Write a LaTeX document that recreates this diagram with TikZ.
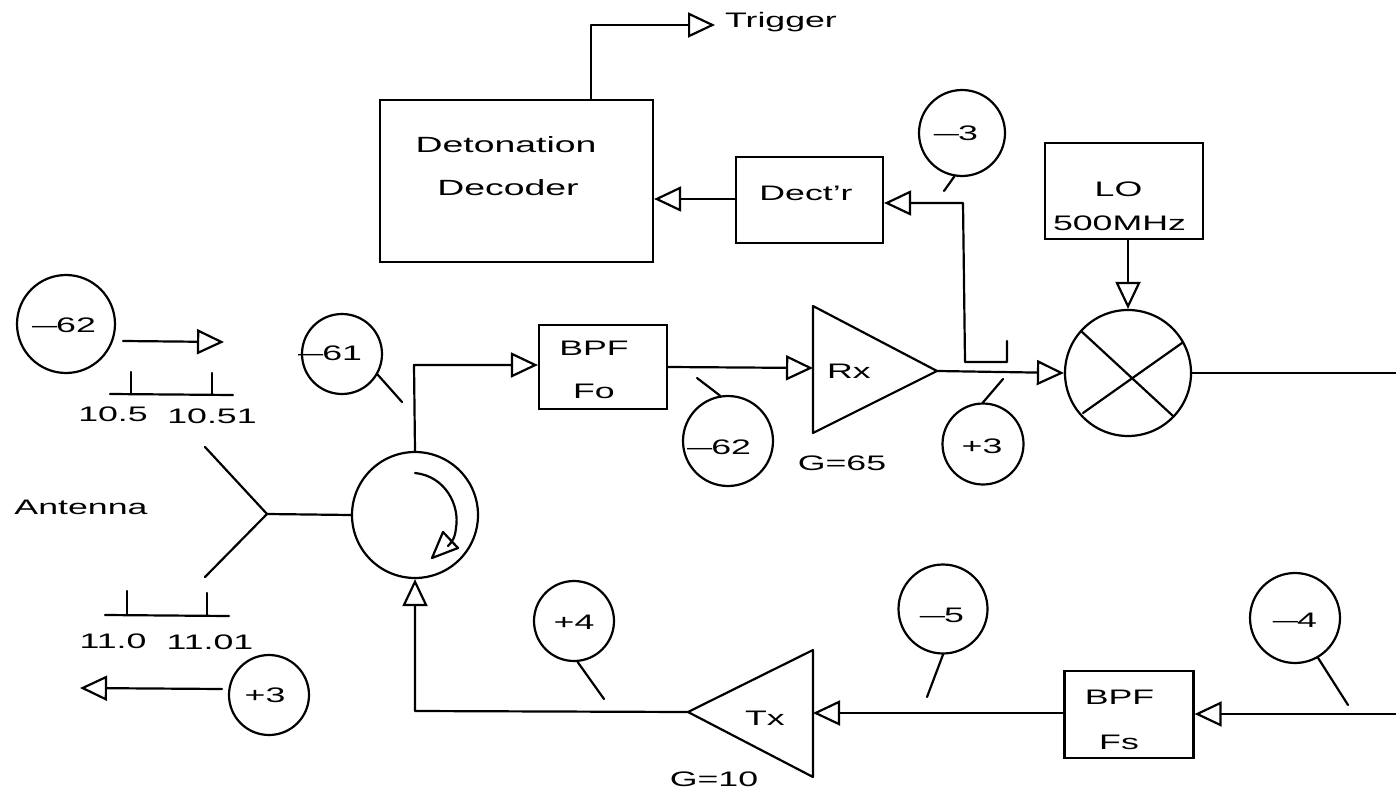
\documentclass[tikz,border=0pt]{standalone}
\usepackage{fontspec}
\setmainfont[FakeStretch=1.7]{Liberation Sans}
\newfontfamily\dashfont[FakeStretch=1.2]{Liberation Sans}
\newcommand{\ldash}{{\dashfont —}\kern-0.5pt}
\usetikzlibrary{arrows.meta,calc}
\tikzset{
  wire/.style={line width=1.1pt,line cap=round,line join=round},
  ar/.style={wire,-{Triangle[open,length=13.5pt,width=12.5pt,line width=1.1pt]}},
  bub/.style={circle,draw,line width=1.1pt,inner sep=0pt,minimum size=#1pt},
  blk/.style n args={2}{rectangle,draw,line width=1.1pt,inner sep=0pt,minimum width=#1pt,minimum height=#2pt},
  lbl/.style={inner sep=0pt,font=\fontsize{10.5}{12}\selectfont},
  big/.style={inner sep=0pt,font=\fontsize{11}{12}\selectfont}
}
\begin{document}
\begin{tikzpicture}[x=0.5pt,y=-0.5pt]
\useasboundingbox (0,0) rectangle (1396,791);
% blocks
\node[blk={136.5}{81}] (decoder) at (516.5,181) {};
\node[blk={73.5}{43}] (dectr) at (809.5,200) {};
\node[blk={79}{48}] (lo) at (1124,191) {};
\node[blk={64}{42}] (bpffo) at (603,367) {};
\node[blk={64.5}{43.5}] (bpffs) at (1129,714.5) {};
% block labels
\node[big] (tdet) at (506,145) {Detonation};
\node[big] (tdec) at (508,188) {Decoder};
\node[lbl] (tdct) at (806,193) {Dect'r};
\node[lbl] (tlo) at (1118.5,189) {LO};
\node[lbl] (t500) at (1119.5,223) {500MHz};
\node[lbl] (tbpf1) at (594,348) {BPF};
\node[lbl] (tfo) at (594,391) {Fo};
\node[lbl] (tbpf2) at (1119.5,697) {BPF};
\node[lbl] (tfs) at (1119,742) {Fs};
\node[lbl] (ttrig) at (781,22) {Trigger};
\node[lbl] (tant) at (81,507) {Antenna};
\node[lbl] (tg65) at (842,463) {G=65};
\node[lbl] (tg10) at (714,779) {G=10};
\node[lbl] (trx) at (849,371) {Rx};
\node[lbl] (ttx) at (765,718) {Tx};
\node[lbl] (f1) at (113,414) {10.5};
\node[lbl] (f2) at (212,416) {10.51};
\node[lbl] (f3) at (113,641) {11.0};
\node[lbl] (f4) at (210,642) {11.01};
% bubbles
\node[bub=49] (b62a) at (66,324) {};
\node[bub=40] (b61) at (342,354) {};
\node[bub=40] (b3b) at (269,695) {};
\node[bub=45] (b62b) at (728,441) {};
\node[bub=43] (b3n) at (962,133) {};
\node[bub=40.5] (b3p) at (983,444) {};
\node[bub=40] (b4p) at (574,621) {};
\node[bub=44.5] (b5) at (943,609) {};
\node[bub=45] (b4n) at (1295,618) {};
\node[lbl] (v62a) at (64,325) {\ldash 62};
\node[lbl] (v61) at (330,353) {\ldash 61};
\node[lbl] (v3b) at (265,695) {+3};
\node[lbl] (v62b) at (719,447) {\ldash 62};
\node[lbl] (v3n) at (956,133) {\ldash 3};
\node[lbl] (v3p) at (982,446) {+3};
\node[lbl] (v4p) at (574,622) {+4};
\node[lbl] (v5) at (942,615) {\ldash 5};
\node[lbl] (v4n) at (1295,620) {\ldash 4};
% mixer and circulator
\node[circle,draw,line width=1.1pt,inner sep=0pt,minimum size=63pt] (mix) at (1128,373) {};
\node[circle,draw,line width=1.1pt,inner sep=0pt,minimum size=63pt] (circ) at (415,515) {};
\draw[wire] (1081,331) -- (1173,416);
\draw[wire] (1182,343) -- (1083,413);
\draw[wire] (415,473) .. controls (445,476) and (460,505) .. (456,528) .. controls (455,538) and (452,542) .. (448,546);
\draw[wire] (443,532) -- (458,548) -- (432,558) -- cycle;
% triangles
\coordinate (rxa) at (813,306); \coordinate (rxb) at (813,433); \coordinate (rxtip) at (937,371);
\coordinate (txa) at (813,650); \coordinate (txb) at (813,777); \coordinate (txtip) at (688,712);
\draw[wire] (rxa) -- (rxtip) -- (rxb) -- cycle;
\draw[wire] (txa) -- (txtip) -- (txb) -- cycle;
% antenna
\coordinate (anta) at (205,447); \coordinate (antb) at (205,577); \coordinate (antc) at (267,514);
\draw[wire] (anta) -- (antc) -- (antb);
\draw[wire] (antc) -- (circ.west);
% connectors
\coordinate (trigend) at (715,25);
\draw[ar] (591,100) -- (591,25) -- (trigend);
\draw[ar] (dectr.west |- 0,199) -- (decoder.east |- 0,199);
\coordinate (hook) at (1007,341);
\draw[ar] (hook) -- (1007,362) -- (965,362) -- (963,203) -- (dectr.east |- 0,203);
\draw[ar] (mix.north |- lo.south) -- (mix.north);
\draw[ar] (rxtip) -- (mix.west);
\coordinate (outr) at (1396,373);
\draw[wire] (mix.east) -- (outr);
\draw[ar] (circ.north) -- (414,365) -- (bpffo.west |- 0,365);
\draw[ar] (bpffo.east |- 0,367) -- (rxa |- 0,368);
\draw[ar] (txtip) -- (415,711) -- (circ.south);
\draw[ar] (bpffs.west |- 0,713) -- (txa |- 0,713);
\coordinate (inr) at (1396,714);
\draw[ar] (inr) -- (bpffs.east |- 0,714);
% spectrum arrows and scales
\coordinate (s1) at (123,341); \coordinate (s2) at (224,342);
\draw[ar] (s1) -- (s2);
\coordinate (s3) at (222,689); \coordinate (s4) at (80,688);
\draw[ar] (s3) -- (s4);
\draw[wire] (110,394) -- (233,395);
\draw[wire] (131,372) -- (131,394);
\draw[wire] (212,373) -- (212,395);
\draw[wire] (105,615) -- (229,616);
\draw[wire] (127,591) -- (127,615);
\draw[wire] (207,593) -- (207,616);
% leaders
\coordinate (l61) at (402,402); \draw[wire] (b61.-30) -- (l61);
\coordinate (l62) at (697,378); \draw[wire] (b62b.100) -- (l62);
\coordinate (l3n) at (944,191); \draw[wire] (b3n.-100) -- (l3n);
\coordinate (l3p) at (1003,379); \draw[wire] (b3p.north) -- (l3p);
\coordinate (l4p) at (604,699); \draw[wire] (b4p.-85) -- (l4p);
\coordinate (l5) at (927,697); \draw[wire] (b5.south) -- (l5);
\coordinate (l4n) at (1348,705); \draw[wire] (b4n.-60) -- (l4n);
\end{tikzpicture}
\end{document}
